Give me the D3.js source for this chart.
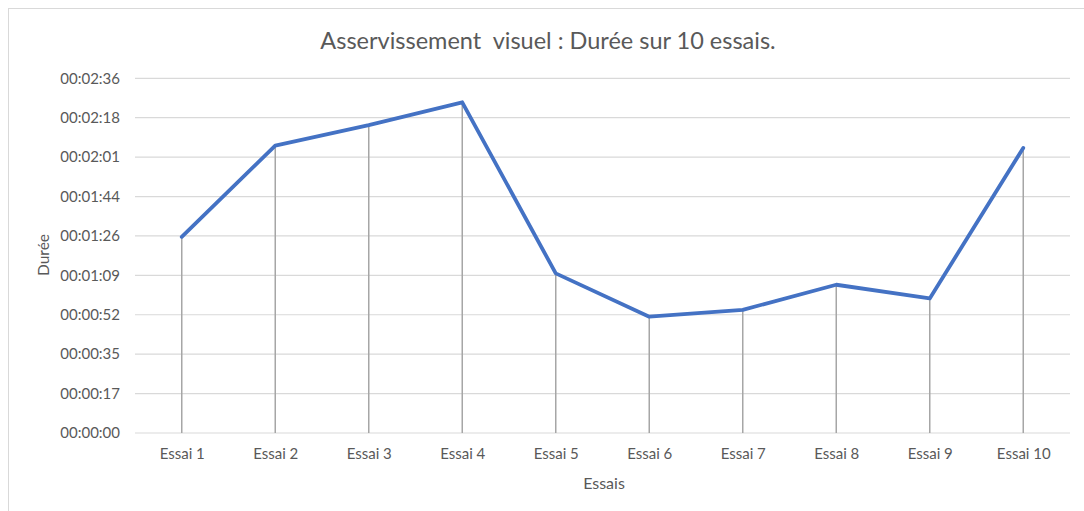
<!DOCTYPE html>
<html>
<head>
<meta charset="utf-8">
<script src="https://cdn.jsdelivr.net/npm/d3@7"></script>
<style>
  html, body { margin: 0; padding: 0; background: #fff; }
  svg { display: block; }
  text { font-family: Lato, "Open Sans", sans-serif; fill: #595959; }
</style>
</head>
<body>
<svg id="chart" width="1084" height="511"></svg>
<script>
// Trial names and durations (seconds)
const categories = ["Essai 1", "Essai 2", "Essai 3", "Essai 4", "Essai 5",
                    "Essai 6", "Essai 7", "Essai 8", "Essai 9", "Essai 10"];
const durations = [86, 126, 135, 145, 70, 51, 54, 65, 59, 125];

// Axis ticks: steps of 0.0002 day (17.28 s)
const yTickSeconds = [0, 17.28, 34.56, 51.84, 69.12, 86.4, 103.68, 120.96, 138.24, 155.52];
const yTickLabels = ["00:00:00", "00:00:17", "00:00:35", "00:00:52", "00:01:09",
                     "00:01:26", "00:01:44", "00:02:01", "00:02:18", "00:02:36"];

const titleText = "Asservissement\u00A0 visuel : Durée sur 10 essais.";
const xTitle = "Essais";
const yTitle = "Durée";

const svg = d3.select("#chart");
const plot = { left: 135, right: 1070, top: 78.3, bottom: 433 };

// outer frame
svg.append("rect")
  .attr("x", 8.5).attr("y", 8.5)
  .attr("width", 1090).attr("height", 520)
  .attr("fill", "#fff")
  .attr("stroke", "#d9d9d9").attr("stroke-width", 1);

const x = d3.scalePoint().domain(categories).range([plot.left, plot.right]).padding(0.5);
const y = d3.scaleLinear().domain([0, d3.max(yTickSeconds)]).range([plot.bottom, plot.top]);

// horizontal gridlines
svg.append("g").selectAll("line").data(yTickSeconds).join("line")
  .attr("x1", plot.left).attr("x2", plot.right)
  .attr("y1", d => y(d)).attr("y2", d => y(d))
  .attr("stroke", "#d9d9d9").attr("stroke-width", 1.2);

// y tick labels
const labelOf = new Map(yTickSeconds.map((s, i) => [s, yTickLabels[i]]));
const yAxis = d3.axisLeft(y).tickValues(yTickSeconds).tickFormat(d => labelOf.get(d)).tickSize(0).tickPadding(15);
const gy = svg.append("g").attr("transform", `translate(${plot.left},0)`).call(yAxis);
gy.select(".domain").remove();
gy.selectAll("text").style("font-size", "15px").attr("fill", "#595959")
  .style("font-family", "Lato, 'Open Sans', sans-serif");

// x tick labels
const xAxis = d3.axisBottom(x).tickSize(0).tickPadding(15);
const gx = svg.append("g").attr("transform", `translate(0,${plot.bottom})`).call(xAxis);
gx.select(".domain").remove();
gx.selectAll("text").style("font-size", "15px").attr("fill", "#595959")
  .style("font-family", "Lato, 'Open Sans', sans-serif");

// drop lines from each point down to the axis
svg.append("g").selectAll("line").data(categories).join("line")
  .attr("x1", d => x(d)).attr("x2", d => x(d))
  .attr("y1", (d, i) => y(durations[i])).attr("y2", y(0))
  .attr("stroke", "#a6a6a6").attr("stroke-width", 1.5);

// duration line
const line = d3.line().x((d, i) => x(categories[i])).y(d => y(d));
svg.append("path").datum(durations)
  .attr("d", line)
  .attr("fill", "none")
  .attr("stroke", "#4472c4")
  .attr("stroke-width", 3.8)
  .attr("stroke-linejoin", "round")
  .attr("stroke-linecap", "round");

// titles
svg.append("text").attr("x", 548).attr("y", 49).attr("text-anchor", "middle")
  .style("font-size", "23.5px").text(titleText);
svg.append("text").attr("x", 604).attr("y", 489).attr("text-anchor", "middle")
  .style("font-size", "16px").text(xTitle);
svg.append("text").attr("transform", "translate(49,255) rotate(-90)")
  .attr("text-anchor", "middle").style("font-size", "15.5px").text(yTitle);
</script>
</body>
</html>
